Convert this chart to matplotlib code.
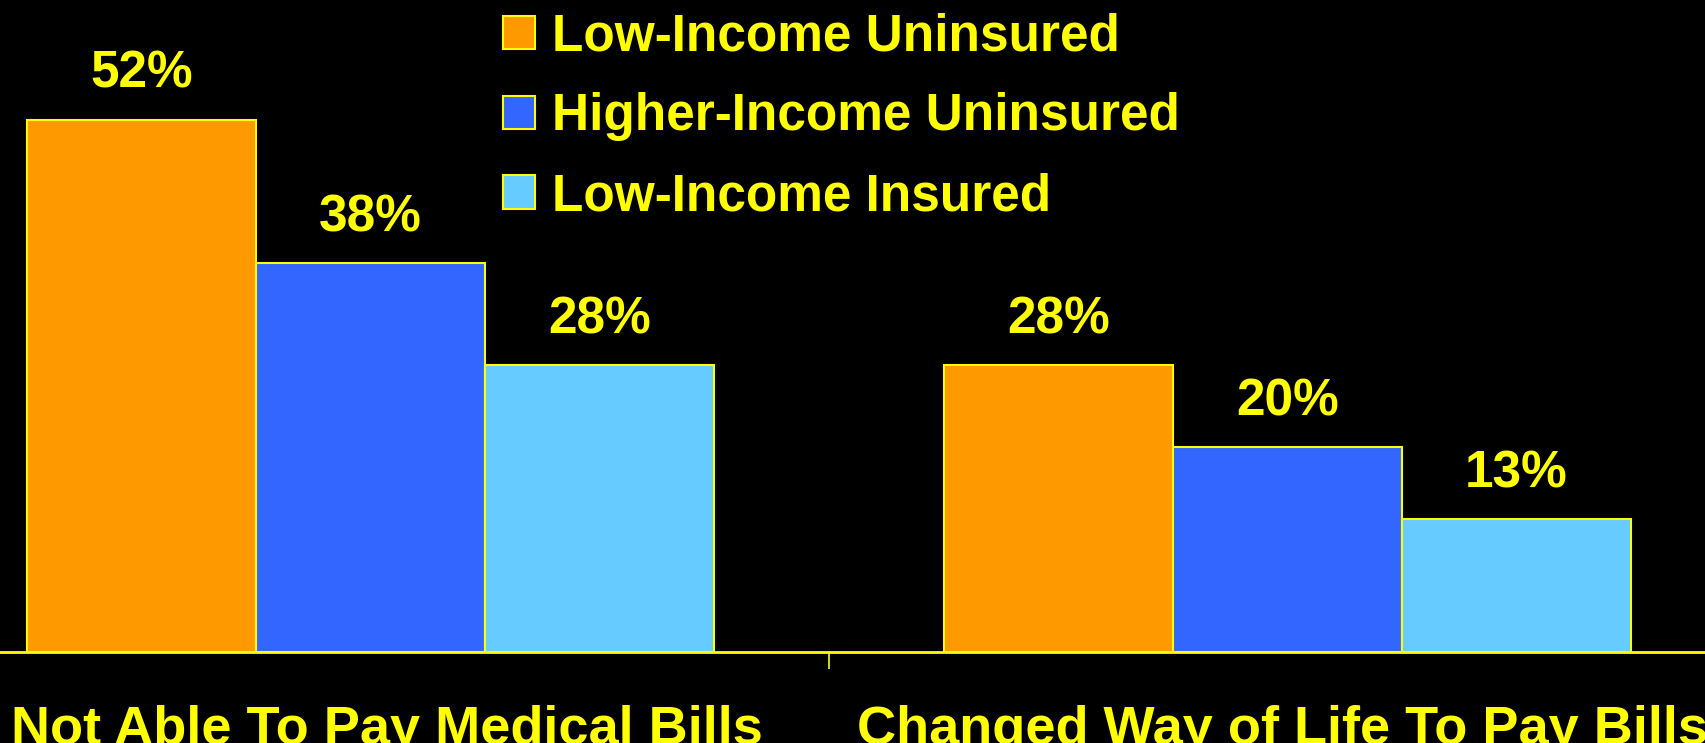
import numpy as np
import matplotlib
matplotlib.use("Agg")
import matplotlib.pyplot as plt
from matplotlib.patches import Patch

categories = ["Not Able To Pay Medical Bills", "Changed Way of Life To Pay Bills"]
series = ["Low-Income Uninsured", "Higher-Income Uninsured", "Low-Income Insured"]
low_uninsured = [52, 28]
high_uninsured = [38, 20]
low_insured = [28, 13]
values = [low_uninsured, high_uninsured, low_insured]
colors = ["#FF9900", "#3366FF", "#66CCFF"]

YEL = "#FFFF00"
plt.rcParams["font.family"] = ["Liberation Sans", "DejaVu Sans"]
plt.rcParams["font.weight"] = "bold"

fig = plt.figure(figsize=(17.05, 7.43), dpi=100, facecolor="black")
ax = fig.add_axes([0, 0.1225, 1, 0.8775], facecolor="black")

# groups 4 units apart, bars 1 unit wide
centers = np.arange(len(categories)) * 4 + 1
for k, (vals, col) in enumerate(zip(values, colors)):
    x = centers + (k - 1)
    ax.bar(x, vals, width=1.0, color=col, edgecolor=YEL, linewidth=1.5, zorder=2)
    for xi, v in zip(x, vals):
        ax.annotate("%d%%" % v, (xi, v), xytext=(0, 15), textcoords="offset points",
                    ha="center", va="bottom", color=YEL, fontsize=37, fontweight="bold")

ax.set_xlim(-0.617, 6.822)
ax.set_ylim(0, 63.7)

for s in ["top", "left", "right"]:
    ax.spines[s].set_visible(False)
ax.spines["bottom"].set_color(YEL)
ax.spines["bottom"].set_linewidth(2)
ax.set_yticks([])

ax.set_xticks(centers + np.array([0.07, -0.02]))
ax.set_xticklabels(categories, fontsize=39, fontweight="bold", color=YEL)
ax.tick_params(axis="x", which="major", length=0, pad=38)
ax.set_xticks([3], minor=True)
ax.tick_params(axis="x", which="minor", length=12, width=1.2, color=YEL)

handles = [Patch(facecolor=c, edgecolor=YEL, linewidth=1.5) for c in colors]
leg = ax.legend(handles, series, loc="upper left", bbox_to_anchor=(0.292, 0.99),
                bbox_transform=fig.transFigure, frameon=False, fontsize=37,
                handlelength=0.62, handleheight=0.62, handletextpad=0.33,
                labelspacing=0.6, borderpad=0.1, borderaxespad=0)
for t in leg.get_texts():
    t.set_color(YEL)
    t.set_fontweight("bold")

fig.savefig("out.png", dpi=100, facecolor="black")
